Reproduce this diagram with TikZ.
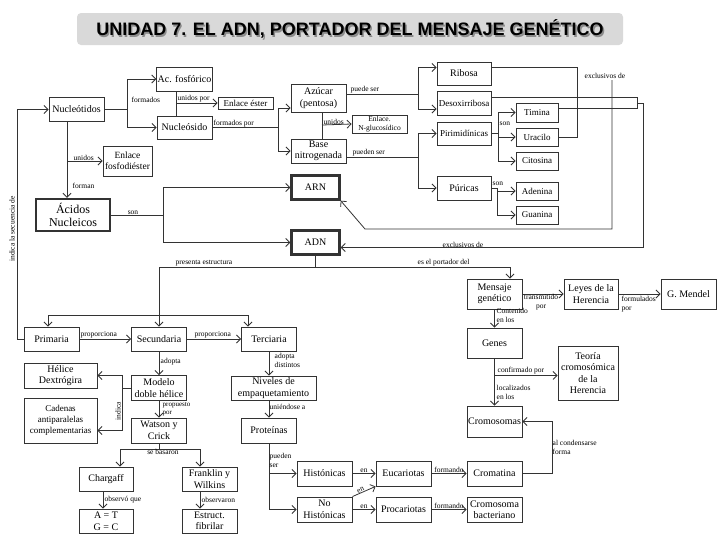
\documentclass[tikz,border=0pt]{standalone}
\usepackage{fontspec}
\setmainfont{Liberation Serif}
\newfontfamily\titlefont{Liberation Sans}
\usetikzlibrary{calc, positioning}
\usetikzlibrary{arrows.meta}

\tikzset{
  box/.style={draw=black!80, line width=0.9pt, minimum width=55pt, minimum height=24pt,
    inner sep=1pt, align=center, font=\fontsize{10}{11.5}\selectfont},
  bigbox/.style={box, line width=2.4pt},
  smallbox/.style={box, minimum width=42pt, minimum height=18pt, font=\fontsize{9}{10}\selectfont},
  lbl/.style={font=\fontsize{7.5}{8.5}\selectfont, inner sep=0.5pt, align=left},
  con/.style={draw=black!80, line width=0.8pt},
  arr/.style={con, -{Straight Barb[length=4pt,width=8pt]}},
}

\begin{document}
\begin{tikzpicture}[x=1pt, y=-1pt]
\useasboundingbox (0,0) rectangle (728,546);
\def\ttltext{UNIDAD 7. EL ADN, PORTADOR DEL MENSAJE GENÉTICO}
\node[fill=black!15, rounded corners=4pt, minimum width=546pt, minimum height=32pt] (ttlbox) at (350,29) {};
\node[text=black!45, font=\titlefont\bfseries\fontsize{18}{20}\selectfont] (ttlshadow) at (351.4,30.6) {\ttltext};
\node[font=\titlefont\bfseries\fontsize{18}{20}\selectfont] (ttl) at (350,29) {\ttltext};

\node[box] (nucl) at (76.5,109.5) {Nucleótidos};
\node[box] (acf) at (184.5,79) {Ac. fosfórico};
\node[box, minimum height=23pt] (nucs) at (184.5,127.5) {Nucleósido};
\node[box, minimum height=12pt, font=\fontsize{9}{10}\selectfont] (ester) at (245.5,103) {Enlace éster};
\node[box, minimum width=49pt, minimum height=30pt, font=\fontsize{9.5}{11}\selectfont] (fosf) at (127.5,161) {Enlace\\fosfodiéster};
\node[bigbox, minimum width=74pt, minimum height=32pt, font=\fontsize{12}{13}\selectfont] (acid) at (73,215) {Ácidos\\Nucleicos};
\node[box, minimum height=28pt] (azuc) at (318.5,98) {Azúcar\\(pentosa)};
\node[box, minimum height=18pt, font=\fontsize{7.5}{8.5}\selectfont] (nglu) at (379.5,124) {Enlace.\\N-glucosídico};
\node[box] (base) at (318.5,151) {Base\\nitrogenada};
\node[bigbox, minimum width=48pt] (arn) at (315.5,187.5) {ARN};
\node[bigbox, minimum width=48pt] (adn) at (315.5,242.5) {ADN};
\node[box, minimum width=54pt, minimum height=23pt] (ribo) at (464,73.5) {Ribosa};
\node[box, minimum width=54pt, font=\fontsize{9}{10}\selectfont] (deso) at (464,103) {Desoxirribosa};
\node[box, minimum width=54pt, minimum height=23pt, font=\fontsize{9}{10}\selectfont] (piri) at (464,133.5) {Pirimidínicas};
\node[box, minimum width=54pt] (puri) at (464,188) {Púricas};
\node[smallbox, minimum height=19pt] (timi) at (537,112.5) {Timina};
\node[smallbox] (urac) at (537,137) {Uracilo};
\node[smallbox] (cito) at (537,161) {Citosina};
\node[smallbox] (aden) at (537,191) {Adenina};
\node[smallbox] (guan) at (537,215) {Guanina};

\node[box] (prim) at (51.5,339) {Primaria};
\node[box] (secu) at (159,339) {Secundaria};
\node[box] (terc) at (269,339) {Terciaria};
\node[box, minimum width=73pt, minimum height=25pt] (heli) at (60.5,375.5) {Hélice\\Dextrógira};
\node[box, minimum width=73pt, minimum height=45pt, font=\fontsize{9}{11}\selectfont] (cade) at (60.5,420.5) {Cadenas\\antiparalelas\\complementarias};
\node[box, minimum height=25pt] (mode) at (159,388) {Modelo\\doble hélice};
\node[box, minimum height=25pt] (wats) at (159,430.5) {Watson y\\Crick};
\node[box, minimum width=54pt] (char) at (106,479) {Chargaff};
\node[box] (fran) at (209.5,479) {Franklin y\\Wilkins};
\node[box, minimum width=54pt] (atgc) at (106,521) {A = T\\G = C};
\node[box] (fibr) at (209.5,521) {Estruct.\\fibrilar};
\node[box, minimum width=85pt] (nive) at (273.5,388) {Niveles de\\empaquetamiento};
\node[box, minimum height=25pt] (prot) at (269,430.5) {Proteínas};
\node[box, minimum height=25pt] (hist) at (324.5,473.5) {Histónicas};
\node[box, minimum height=25pt] (nohi) at (324.5,509.5) {No\\Histónicas};
\node[box, minimum height=25pt] (euca) at (403.5,473.5) {Eucariotas};
\node[box, minimum height=25pt] (proc) at (403.5,509.5) {Procariotas};
\node[box, minimum height=25pt] (crom) at (494.5,473.5) {Cromatina};
\node[box, minimum height=25pt] (bact) at (494.5,509.5) {Cromosoma\\bacteriano};
\node[box, minimum height=30pt] (mens) at (494.5,294) {Mensaje\\genético};
\node[box, minimum width=54pt, minimum height=30pt] (leye) at (591,294) {Leyes de la\\Herencia};
\node[box, minimum height=30pt] (mend) at (688.5,294) {G. Mendel};
\node[box, minimum height=30pt] (gene) at (494.5,343) {Genes};
\node[box, minimum width=60pt, minimum height=54pt] (teor) at (588,373) {Teoría\\cromosómica\\de la\\Herencia};
\node[box, minimum height=31pt] (cros) at (494.5,421.5) {Cromosomas};

\coordinate (j1) at (127,109.5);
\coordinate (j2) at (176,103);
\coordinate (j3) at (278,127.5);
\coordinate (j4) at (322,125);
\coordinate (j5) at (418,94);
\coordinate (j6) at (418,157);
\coordinate (j7) at (498,133.5);
\coordinate (j8) at (497,188);
\coordinate (n1) at (67,161);
\coordinate (s1) at (163,215);
\coordinate (x1) at (612,80);
\coordinate (x1b) at (365,229);
\coordinate (x2) at (637,103);
\coordinate (a1) at (159,267);
\coordinate (a2) at (510,267);
\coordinate (b1) at (48,315);
\coordinate (b2) at (248,315);
\coordinate (m1) at ($(mode.west)+(-9,0)$);
\coordinate (w1) at ($(wats.south)+(0,6)$);
\coordinate (w2) at (120,449);
\coordinate (w3) at (200,449);
\coordinate (g1) at ($(gene.south)+(0,17)$);

\draw[con] (nucl.east) -- (j1);
\draw[arr] (j1) |- (acf.west);
\draw[arr] (j1) |- (nucs.west);
\node[lbl, anchor=west] (l1) at (131,100) {formados};
\draw[con] (acf.south -| j2) -- (nucs.north -| j2);
\draw[arr] (j2) -- (ester.west);
\node[lbl, anchor=south west] (l2) at (177,103) {unidos por};
\draw[con] (nucs.east) -- (j3);
\draw[arr] (j3) |- ($(azuc.west)+(0,10)$);
\draw[arr] (j3) |- (base.west);
\node[lbl, anchor=south west] (l3) at (213,127.5) {formados por};
\draw[con] (azuc.south -| j4) -- (base.north -| j4);
\draw[arr] (j4) -- (nglu.west);
\node[lbl, anchor=south west] (l4) at (323,125) {unidos};
\draw[con] ($(azuc.east)+(0,-4)$) -- (j5);
\draw[arr] (j5) |- ($(ribo.west)+(0,-6)$);
\draw[arr] (j5) |- ($(deso.west)+(0,6)$);
\node[lbl, anchor=south west] (l5) at (350,94) {puede ser};
\draw[con] ($(base.east)+(0,6)$) -- (j6);
\draw[arr] (j6) |- (piri.west);
\draw[arr] (j6) |- (puri.west);
\node[lbl, anchor=south west] (l6) at (352,157) {pueden ser};
\draw[con] (piri.east) -- (j7);
\draw[arr] (j7) |- (timi.west);
\draw[arr] (j7) |- (urac.west);
\draw[arr] (j7) |- (cito.west);
\node[lbl, anchor=west] (l7) at (499,124) {son};
\draw[con] (puri.east) -- (j8);
\draw[arr] (j8) |- (aden.west);
\draw[arr] (j8) |- (guan.west);
\node[lbl, anchor=south west] (l8) at (492,186) {son};

\draw[con] ($(ribo.east)+(0,-6)$) -| ($(urac.east)+(19,0)$) -- (urac.east);
\draw[con] ($(deso.east)+(0,-6)$) -| ($(timi.east)+(79,-4)$) -- ($(timi.east)+(0,-4)$);
\draw[arr] (x1) |- (x1b) -- (arn.south east);
\node[lbl, anchor=west] (l9) at (584,76) {exclusivos de};
\draw[arr] (x2) -- ++(6,0) |- ($(adn.east)+(0,5)$);
\node[lbl, anchor=south west] (l10) at (442,248) {exclusivos de};

\draw[arr] (nucl.south -| n1) -- (acid.north -| n1);
\draw[arr] (n1) -- (fosf.west);
\node[lbl, anchor=south west] (l11) at (73,161) {unidos};
\node[lbl, anchor=west] (l12) at (72,186) {forman};
\draw[con] (acid.east) -- (s1);
\draw[arr] (s1) |- (arn.west);
\draw[arr] (s1) |- (adn.west);
\node[lbl, anchor=south] (l13) at (133,215) {son};
\draw[arr] (prim.west) -- ++(-6,0) |- (nucl.west);
\node[lbl, rotate=90] (l14) at (12,229) {indica la secuencia de};

\draw[con] (adn.south) -- (adn.south |- a1);
\draw[con] (a1) -- (a2);
\draw[arr] (a1) -- (secu.north);
\draw[arr] (a2) -- (a2 |- mens.north);
\node[lbl, anchor=south west] (l15) at (175,267) {presenta estructura};
\node[lbl, anchor=south west] (l16) at (417,267) {es el portador del};
\draw[con] (b1) -- (b2);
\draw[arr] (b1) -- (b1 |- prim.north);
\draw[arr] (b2) -- (b2 |- terc.north);
\draw[arr] (prim.east) -- (secu.west);
\node[lbl, anchor=south west] (l17) at (80,339) {proporciona};
\draw[arr] (secu.east) -- (terc.west);
\node[lbl, anchor=south west] (l18) at (194,339) {proporciona};

\draw[arr] (secu.south) -- (mode.north);
\node[lbl, anchor=west] (l19) at (160,362) {adopta};
\draw[con] (mode.west) -- (m1);
\draw[arr] (m1) |- (heli.east);
\draw[arr] (m1) |- ($(cade.east)+(0,10)$);
\node[lbl, rotate=90] (l20) at (118,411) {indica};
\draw[arr] (mode.south) -- (wats.north);
\node[lbl, anchor=north west, font=\fontsize{7}{8}\selectfont] (l21) at (162,401.5) {propuesto\\por};
\draw[con] (wats.south) -- (w1);
\draw[con] (w2) -- (w3);
\draw[arr] (w2) -- (w2 |- char.north);
\draw[arr] (w3) -- (w3 |- fran.north);
\node[lbl, anchor=north] (l22) at (163,449) {se basaron};
\draw[arr] ($(char.south)+(-3,0)$) -- ($(atgc.north)+(-3,0)$);
\node[lbl, anchor=west] (l23) at (104,500) {observó que};
\draw[arr] (fran.south -| w3) -- (fibr.north -| w3);
\node[lbl, anchor=west] (l24) at (201,500) {observaron};

\draw[arr] (terc.south) -- (terc.south |- nive.north);
\node[lbl, anchor=north west] (l25) at (274,353) {adopta\\distintos};
\draw[arr] (terc.south |- nive.south) -- (prot.north);
\node[lbl, anchor=west] (l26) at (269,407) {uniéndose a};
\draw[con] (prot.south) -- (prot.south |- nohi.west);
\draw[arr] (prot.south |- hist.west) -- (hist.west);
\draw[arr] (prot.south |- nohi.west) -- (nohi.west);
\node[lbl, anchor=north west] (l27) at (269,453) {pueden\\ser};
\draw[arr] (hist.east) -- (euca.west);
\node[lbl, anchor=south] (l28) at (364,473.5) {en};
\draw[arr] (nohi.north east) -- node[lbl, sloped, above, pos=0.4] (l29) {en} (euca.south west);
\draw[arr] (nohi.east) -- (proc.west);
\node[lbl, anchor=south] (l30) at (364,509.5) {en};
\draw[arr] (euca.east) -- (crom.west);
\node[lbl, anchor=south] (l31) at (449,473.5) {formando};
\draw[arr] (proc.east) -- (bact.west);
\node[lbl, anchor=south] (l32) at (449,509.5) {formando};
\draw[arr] (crom.east) -- ++(30,0) |- (cros.east);
\node[lbl, anchor=north west] (l33) at (552,440) {al condensarse\\forma};

\draw[arr] (mens.east) -- (leye.west);
\node[lbl, anchor=north, align=center] (l34) at (541,294) {transmitido\\por};
\draw[arr] (leye.east) -- (mend.west);
\node[lbl, anchor=north west] (l35) at (621,296) {formulados\\por};
\draw[arr] (mens.south) -- (gene.north);
\node[lbl, anchor=north west] (l36) at (496,308) {Contenido\\en los};
\draw[arr] (gene.south) -- (cros.north);
\draw[arr] (g1) -- (g1 -| teor.west);
\node[lbl, anchor=south west] (l37) at (497,375) {confirmado por};
\node[lbl, anchor=north west] (l38) at (496,385) {localizados\\en los};
\end{tikzpicture}
\end{document}
